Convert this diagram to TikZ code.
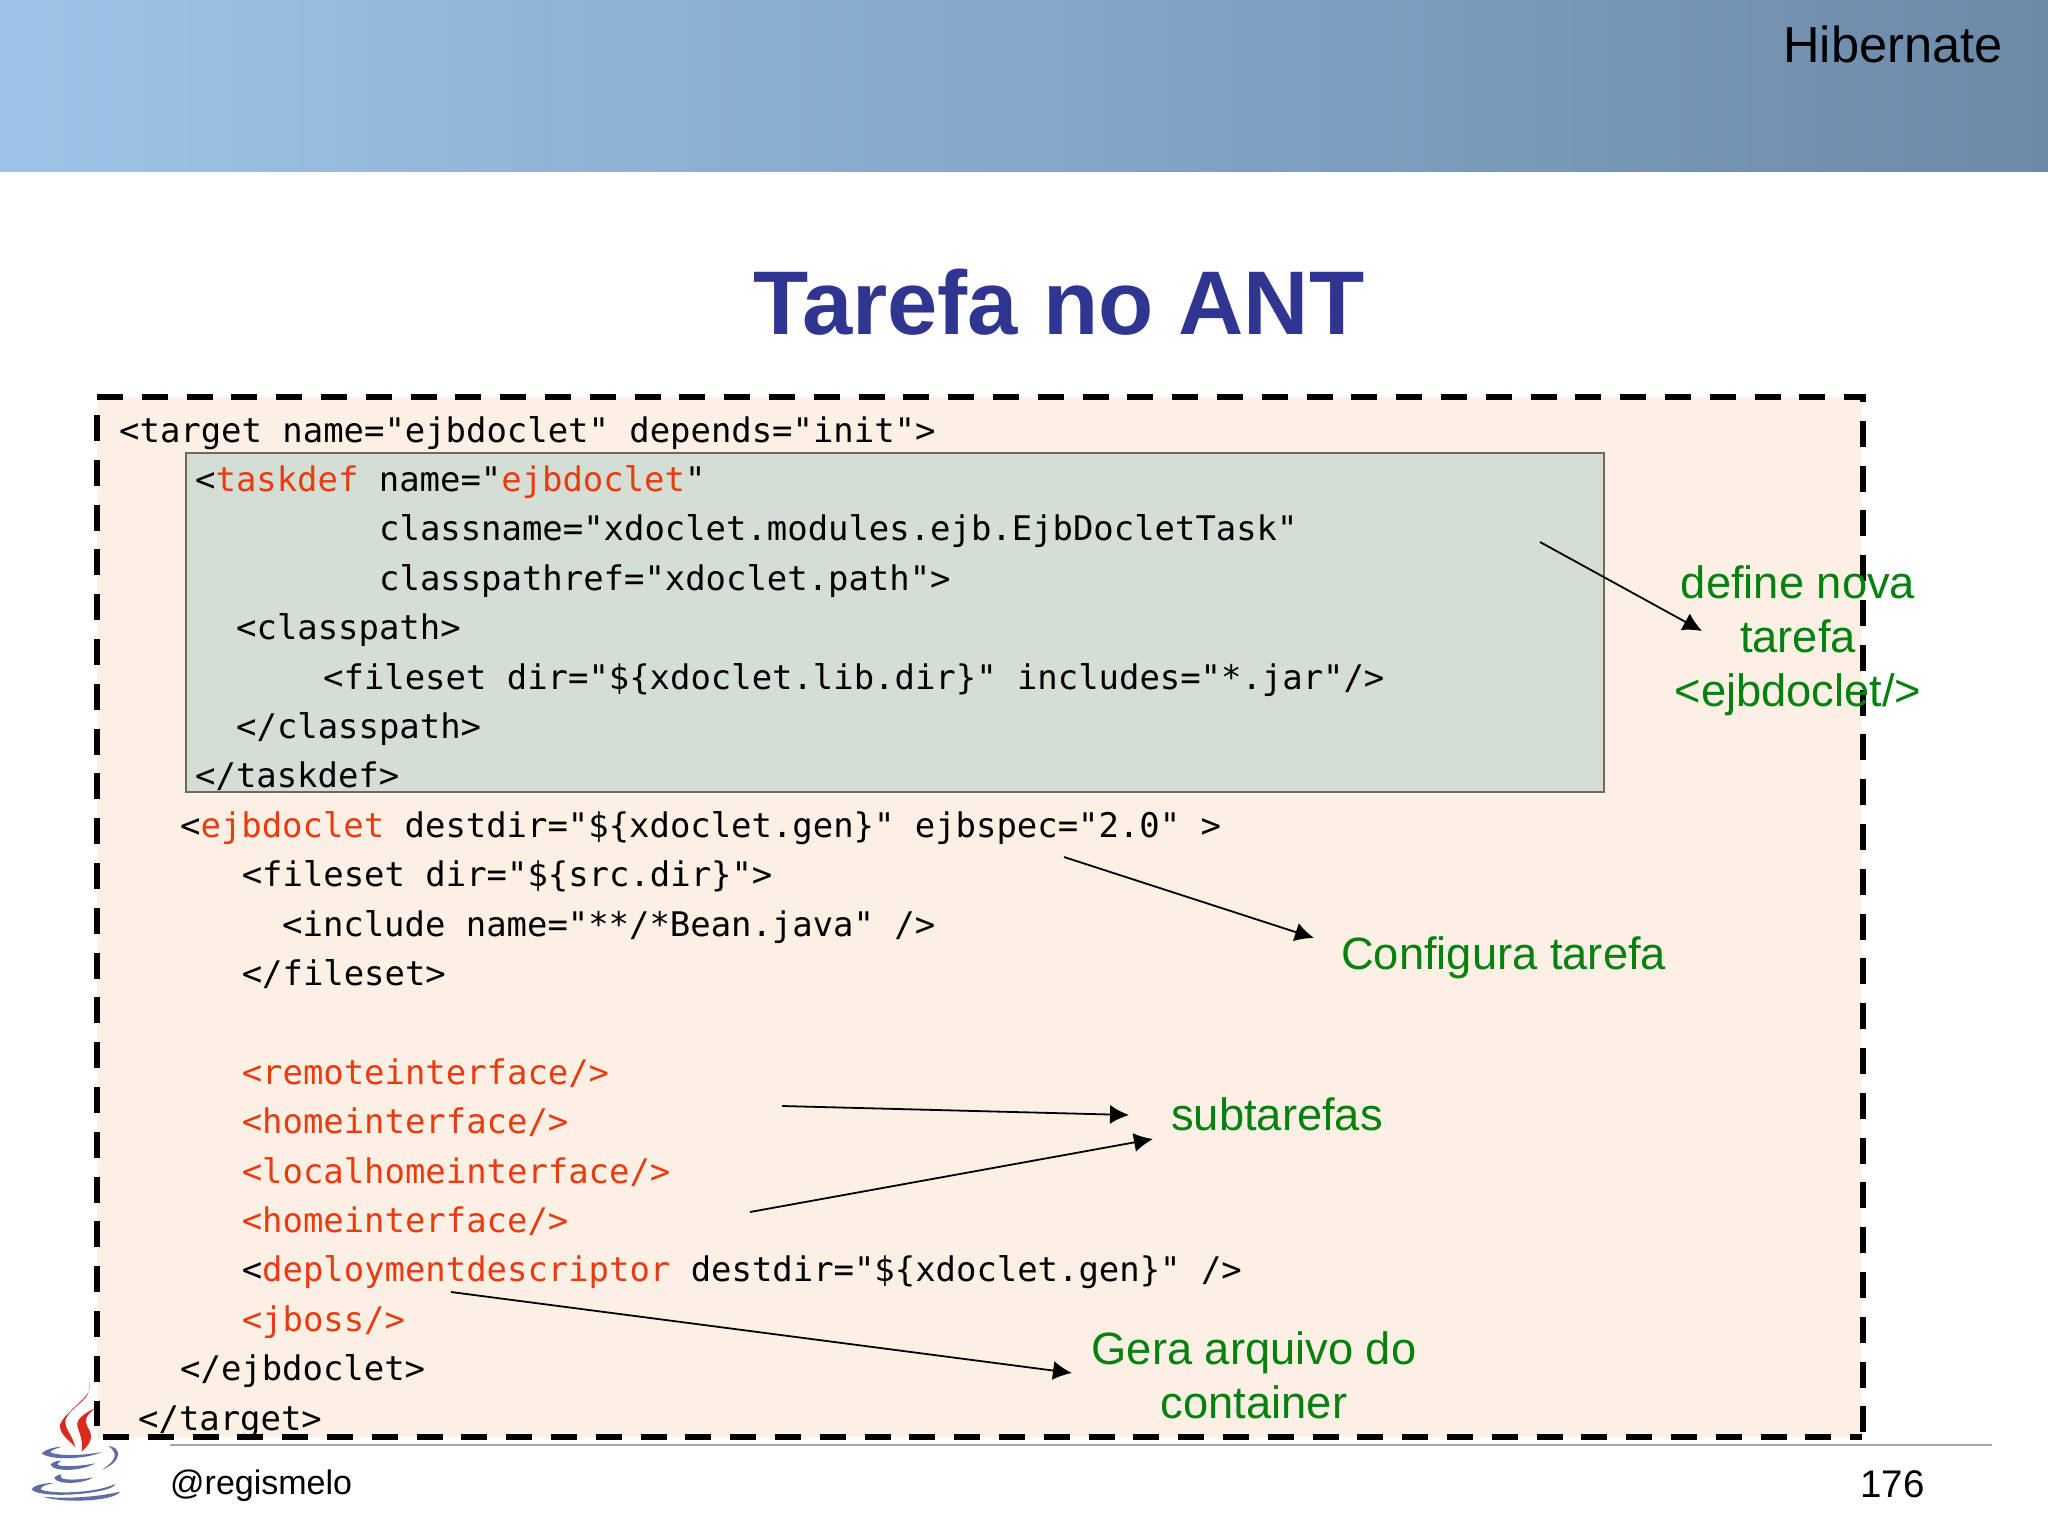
\documentclass[tikz,border=0pt]{standalone}
\usepackage{fontspec}
\usepackage{xcolor}
\usepackage{tikz}
\usetikzlibrary{arrows.meta}
\setmainfont{Liberation Sans}
\newfontfamily\codefont{DejaVu Sans Mono}
\definecolor{boxpeach}{HTML}{FCF0E5}
\definecolor{boxgreen}{HTML}{D5DED4}
\definecolor{boxedge}{HTML}{6E6A5E}
\definecolor{tagred}{HTML}{EA3A10}
\definecolor{notegreen}{HTML}{06800E}
\definecolor{titleblue}{HTML}{2F3590}
\definecolor{logoblue}{HTML}{5F6DA6}
\definecolor{logored}{HTML}{D92B1E}
\definecolor{bandleft}{HTML}{9DC4E8}
\definecolor{bandmid}{HTML}{8EAAD0}
\definecolor{bandright}{HTML}{6C8AA8}
\tikzset{
  codeline/.style={anchor=base west,inner sep=0pt,font=\codefont\fontsize{33.9}{40}\selectfont},
  notetext/.style={text=notegreen,align=center,inner sep=0pt,font=\fontsize{45.3}{54}\selectfont},
  callout/.style={-{Latex[length=19pt,width=19pt]},line width=1.8pt},
  edgedash/.style={line width=6.5pt,dash pattern=on 26pt off 18.8pt}
}
\newcommand{\tagtxt}[1]{\textcolor{tagred}{#1}}
\begin{document}
\begin{tikzpicture}[x=1pt,y=-1pt]
      \useasboundingbox (0,0) rectangle (2048,1536);
      \fill[white] (0,0) rectangle (2048,1536);
      % header band
      \shade[left color=bandleft,middle color=bandmid,right color=bandright] (0,0) rectangle (2048,171);
      \node[anchor=base east,inner sep=0pt,font=\fontsize{50.6}{60}\selectfont] (chapter) at (2003,63) {Hibernate};
      \node[anchor=base,inner sep=0pt,text=titleblue,font=\bfseries\fontsize{90.4}{110}\selectfont] (slidetitle) at (1059,334) {Tarefa no ANT};
      % java logo
      \begin{scope}[shift={(0,1300)},x=0.3333pt,y=-0.3333pt]
        \fill[logored] (268,248) .. controls (285,290) and (195,330) .. (180,375) .. controls (178,405) and (210,420) .. (225,442) .. controls (222,410) and (190,385) .. (197,358) .. controls (210,320) and (280,300) .. (268,248) -- cycle;
        \fill[logored] (285,325) .. controls (250,340) and (228,360) .. (232,378) .. controls (238,400) and (250,420) .. (245,455) .. controls (262,440) and (280,420) .. (270,395) .. controls (262,375) and (240,360) .. (285,325) -- cycle;
        \fill[logoblue] (125,460) .. controls (140,445) and (165,442) .. (185,440) .. controls (165,447) and (150,452) .. (152,458) .. controls (190,470) and (260,465) .. (305,456) .. controls (260,478) and (150,482) .. (125,460) -- cycle;
        \fill[logoblue] (325,438) .. controls (360,440) and (375,480) .. (305,510) .. controls (335,490) and (365,465) .. (325,438) -- cycle;
        \fill[logoblue] (152,495) .. controls (155,485) and (170,483) .. (185,482) .. controls (170,490) and (170,495) .. (180,497) .. controls (210,500) and (250,497) .. (285,490) .. controls (250,512) and (165,518) .. (152,495) -- cycle;
        \fill[logoblue] (163,535) .. controls (165,527) and (175,525) .. (185,523) .. controls (178,532) and (185,537) .. (200,538) .. controls (225,540) and (255,537) .. (280,532) .. controls (250,552) and (175,555) .. (163,535) -- cycle;
        \fill[logoblue] (95,568) .. controls (100,557) and (125,550) .. (165,548) .. controls (135,555) and (115,562) .. (125,570) .. controls (180,585) and (300,575) .. (345,552) .. controls (345,580) and (120,600) .. (95,568) -- cycle;
        \fill[logoblue] (130,590) .. controls (200,598) and (300,590) .. (360,575) .. controls (345,605) and (180,610) .. (130,590) -- cycle;
      \end{scope}
      % main dashed box
      \fill[boxpeach] (97,397) rectangle (1862,1437);
      \draw[edgedash] (97,397) -- (1866,397);
      \draw[edgedash,dash phase=21pt] (1863,397) -- (1863,1437);
      \draw[edgedash] (97,415) -- (97,1426);
      \draw[edgedash] (103,1437) -- (1862,1437);
      % taskdef box
      \draw[draw=boxedge,fill=boxgreen,line width=2pt] (185.5,453) rectangle (1604,792);
      % code lines
      \begin{scope}[yshift=-1pt]
      \node[codeline] (line01) at (119,441) {<target name="ejbdoclet" depends="init">};
      \node[codeline] (line02) at (195,490.4) {<\tagtxt{taskdef} name="\tagtxt{ejbdoclet}"};
      \node[codeline] (line03) at (379,539.8) {classname="xdoclet.modules.ejb.EjbDocletTask"};
      \node[codeline] (line04) at (379,589.2) {classpathref="xdoclet.path">};
      \node[codeline] (line05) at (236,638.6) {<classpath>};
      \node[codeline] (line06) at (323,688) {<fileset dir="\$\{xdoclet.lib.dir\}" includes="*.jar"/>};
      \node[codeline] (line07) at (236,737.4) {</classpath>};
      \node[codeline] (line08) at (195,786.8) {</taskdef>};
      \node[codeline] (line09) at (180,836.2) {<\tagtxt{ejbdoclet} destdir="\$\{xdoclet.gen\}" ejbspec="2.0" >};
      \node[codeline] (line10) at (241.6,885.6) {<fileset dir="\$\{src.dir\}">};
      \node[codeline] (line11) at (282,935) {<include name="**/*Bean.java" />};
      \node[codeline] (line12) at (241.6,984.4) {</fileset>};
      \node[codeline,text=tagred] (line14) at (241.6,1083.2) {<remoteinterface/>};
      \node[codeline,text=tagred] (line15) at (241.6,1132.6) {<homeinterface/>};
      \node[codeline,text=tagred] (line16) at (241.6,1182) {<localhomeinterface/>};
      \node[codeline,text=tagred] (line17) at (241.6,1231.4) {<homeinterface/>};
      \node[codeline] (line18) at (241.6,1280.8) {<\tagtxt{deploymentdescriptor} destdir="\$\{xdoclet.gen\}" />};
      \node[codeline,text=tagred] (line19) at (241.6,1330.2) {<jboss/>};
      \node[codeline] (line20) at (180,1379.6) {</ejbdoclet>};
      \node[codeline] (line21) at (138,1429) {</target>};
      \end{scope}
      % notes
      \node[notetext,anchor=base] (notedefine) at (1798,706) {define nova\\tarefa\\<ejbdoclet/>};
      \node[notetext,anchor=base west] (noteconfig) at (1341,969) {Configura tarefa};
      \node[notetext,anchor=base west] (notesub) at (1171,1130) {subtarefas};
      \node[notetext,anchor=base] (notegera) at (1254,1418) {Gera arquivo do\\container};
      % arrows
      \coordinate (defineA) at (1540,542);
      \coordinate (defineB) at (1702,631);
      \coordinate (configA) at (1064,857);
      \coordinate (configB) at (1314,938);
      \coordinate (subA) at (782,1106);
      \coordinate (subB) at (1129,1115);
      \coordinate (subC) at (750,1212);
      \coordinate (subD) at (1153,1139);
      \coordinate (geraA) at (451,1292);
      \coordinate (geraB) at (1072,1373);
      \draw[callout] (defineA) -- (defineB);
      \draw[callout] (configA) -- (configB);
      \draw[callout] (subA) -- (subB);
      \draw[callout] (subC) -- (subD);
      \draw[callout] (geraA) -- (geraB);
      % footer
      \coordinate (footA) at (170,1445);
      \coordinate (footB) at (1992,1445);
      \draw[line width=2pt,color=black!35] (footA) -- (footB);
      \node[anchor=base west,inner sep=0pt,font=\fontsize{34}{40}\selectfont] (account) at (170,1494) {@regismelo};
      \node[anchor=base east,inner sep=0pt,font=\fontsize{38.5}{44}\selectfont] (pagenum) at (1925,1497) {176};
    \end{tikzpicture}
\end{document}
